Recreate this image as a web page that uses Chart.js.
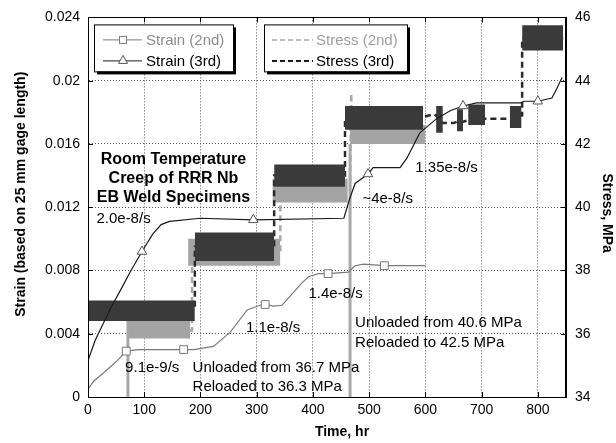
<!DOCTYPE html>
<html>
<head>
<meta charset="utf-8">
<style>
  html, body { margin: 0; padding: 0; background: #fff; }
  #wrap { width: 616px; height: 443px; position: relative; }
</style>
<script src="https://cdn.jsdelivr.net/npm/chart.js@4.4.1/dist/chart.umd.min.js"></script>
</head>
<body>
<div id="wrap"><canvas id="creepChart"></canvas></div>
<script>
// strain curves [time hr, strain]
const strain2 = [[0,0.0005],[10,0.0010],[27,0.0015],[52,0.0023],[68,0.0029],[90,0.0030],[170,0.0030],
  [188,0.0030],[223,0.0032],[253,0.0041],[283,0.0055],[306,0.0058],[315,0.00585],[330,0.00575],
  [345,0.0058],[365,0.0066],[380,0.0072],[392,0.0076],[410,0.0078],[427,0.0078],[463,0.0079],
  [475,0.0083],[490,0.0084],[527,0.0083],[600,0.0083]];
const strain3 = [[0,0.0023],[13,0.0036],[40,0.0056],[60,0.0069],[75,0.0079],[96,0.0092],[115,0.0103],
  [130,0.0109],[145,0.0111],[200,0.0113],[294,0.0112],[455,0.0113],[465,0.0125],[475,0.0135],
  [498,0.0141],[507,0.0145],[555,0.0145],[567,0.0151],[590,0.0167],[620,0.0176],[644,0.0181],
  [667,0.0184],[691,0.0186],[771,0.0186],[775,0.0187],[800,0.0187],[825,0.0189],[835,0.0196],[843,0.0202]];
const strain2Marks = [[68,0.0029],[170,0.0030],[315,0.00585],[427,0.0078],[527,0.0083]];
const strain3Marks = [[96,0.0092],[294,0.0112],[498,0.0141],[667,0.0184],[800,0.0187]];

// stress levels [time hr, MPa]
const stress2 = [[0,36.7],[71,36.7],[72,36.1],[185,36.1],[185,38.6],[342,38.6],[342,40.5],
  [466,40.5],[468,43.6],[470,42.3],[600,42.3]];
const stress3 = [[0,36.75],[190,36.75],[190,38.75],[331,38.75],[331,41.0],[457,41.0],[457,42.85],
  [596,42.85],[615,42.94],[619,42.9],[631,42.66],[650,42.66],[656,42.7],[667,42.7],[676,42.75],
  [706,42.8],[745,42.8],[750,42.85],[772,42.9],[772,45.35],[845,45.35]];

// noise bands [t start, t end, low MPa, high MPa]
const stress2Bands = [[72,182,35.85,36.6],[178,342,38.15,39.0],[328,462,40.15,40.9],[466,600,42.0,42.6]];
const stress3Bands = [[0,190,36.4,37.05],[190,331,38.3,39.2],[331,457,40.65,41.35],[457,596,42.45,43.2],
  [619,631,42.35,43.2],[656,667,42.4,43.1],[676,706,42.6,43.25],[750,771,42.5,43.2],[772,845,44.95,45.75]];

// unloading events of the 2nd specimen: time, stress before the drop
const unloadTimes = [71, 466];
const unloadFrom = [36.5, 42.0];

const xTicks = [0, 100, 200, 300, 400, 500, 600, 700, 800];

const notes = [
  ['Room Temperature', 152, 0.0150, true, 'center'],
  ['Creep of RRR Nb', 152, 0.0138, true, 'center'],
  ['EB Weld Specimens', 152, 0.0126, true, 'center'],
  ['2.0e-8/s', 15, 0.01128],
  ['9.1e-9/s', 66, 0.00183],
  ['Unloaded from 36.7 MPa', 186, 0.00183],
  ['Reloaded to 36.3 MPa', 186, 0.00063],
  ['1.1e-8/s', 281, 0.00435],
  ['1.4e-8/s', 392, 0.00655],
  ['Unloaded from 40.6 MPa', 475, 0.00466],
  ['Reloaded to 42.5 MPa', 475, 0.0034],
  ['~4e-8/s', 488, 0.01254],
  ['1.35e-8/s', 582, 0.01449]
];

const FONT = '"Liberation Sans", Arial, sans-serif';
const pts = arr => arr.map(p => ({ x: p[0], y: p[1] }));

function bandSets(bands, color, order) {
  return bands.map(b => ({
    data: [{ x: b[0], y: b[3] }, { x: b[1], y: b[3] }],
    yAxisID: 'y1',
    borderWidth: 0,
    pointRadius: 0,
    fill: { value: b[2] },
    backgroundColor: color,
    order: order
  }));
}

const unloadData = [];
unloadTimes.forEach((t, i) => {
  unloadData.push({ x: t, y: unloadFrom[i] }, { x: t, y: 0 }, { x: t, y: null });
});

const datasets = [
  { label: 'Strain (2nd)', data: pts(strain2), yAxisID: 'y', borderColor: '#7a7a7a', borderWidth: 1.2, pointRadius: 0, order: 0 },
  { label: 'Strain (3rd)', data: pts(strain3), yAxisID: 'y', borderColor: '#1a1a1a', borderWidth: 1.2, pointRadius: 0, order: 0 },
  { data: pts(strain2Marks), yAxisID: 'y', showLine: false, pointStyle: 'rect', pointRadius: 5.5,
    pointBackgroundColor: '#fff', pointBorderColor: '#777', pointBorderWidth: 1, order: -1 },
  { data: pts(strain3Marks), yAxisID: 'y', showLine: false, pointStyle: 'triangle', pointRadius: 5.5,
    pointBackgroundColor: '#fff', pointBorderColor: '#555', pointBorderWidth: 1, order: -1 },
  { label: 'Stress (3rd)', data: pts(stress3), yAxisID: 'y1', borderColor: '#2a2a2a', borderWidth: 2.5,
    borderDash: [6, 4], pointRadius: 0, order: 3 },
  ...bandSets(stress3Bands, '#3a3a3a', 2),
  { label: 'Stress (2nd)', data: pts(stress2), yAxisID: 'y1', borderColor: '#a8a8a8', borderWidth: 2.5,
    borderDash: [6, 4], pointRadius: 0, order: 5 },
  { data: unloadData, yAxisID: 'y1', borderColor: '#a8a8a8', borderWidth: 3, pointRadius: 0, spanGaps: false, order: 5 },
  ...bandSets(stress2Bands, '#a4a4a4', 4)
];

const decorations = {
  id: 'decorations',
  afterDraw(chart) {
    const { ctx, chartArea: a, scales } = chart;
    const x = scales.x, y = scales.y;
    ctx.save();

    // frame and inward ticks
    ctx.strokeStyle = '#000';
    ctx.lineWidth = 1;
    ctx.strokeRect(Math.round(a.left) + 0.5, Math.round(a.top) + 0.5,
      Math.round(a.right - a.left) - 1, Math.round(a.bottom - a.top));
    ctx.beginPath();
    xTicks.forEach(v => {
      const px = Math.round(x.getPixelForValue(v)) + 0.5;
      ctx.moveTo(px, a.top); ctx.lineTo(px, a.top + 5);
      ctx.moveTo(px, a.bottom); ctx.lineTo(px, a.bottom - 5);
    });
    y.ticks.forEach(t => {
      const py = Math.round(y.getPixelForValue(t.value)) + 0.5;
      ctx.moveTo(a.left, py); ctx.lineTo(a.left + 5, py);
      ctx.moveTo(a.right, py); ctx.lineTo(a.right - 5, py);
    });
    ctx.stroke();

    // annotations
    ctx.fillStyle = '#000';
    ctx.textBaseline = 'middle';
    notes.forEach(n => {
      ctx.font = n[3] ? 'bold 16px ' + FONT : '15px ' + FONT;
      ctx.textAlign = n[4] || 'left';
      ctx.fillText(n[0], x.getPixelForValue(n[1]), y.getPixelForValue(n[2]));
    });

    // legend boxes
    const box = (bx, by, w, h) => {
      ctx.fillStyle = '#000';
      ctx.fillRect(bx + 3, by + 3, w, h);
      ctx.fillStyle = '#fff';
      ctx.fillRect(bx, by, w, h);
      ctx.strokeStyle = '#000';
      ctx.lineWidth = 1;
      ctx.strokeRect(bx + 0.5, by + 0.5, w, h);
    };
    const b1x = a.left + 6, b2x = a.left + 176, by = a.top + 7;
    box(b1x, by, 139, 47);
    box(b2x, by, 143, 47);
    const r1 = by + 15, r2 = by + 36;
    ctx.font = '15px ' + FONT;
    ctx.textAlign = 'left';

    // strain entries
    ctx.lineWidth = 1;
    ctx.strokeStyle = '#7a7a7a';
    ctx.beginPath(); ctx.moveTo(b1x + 9, r1 + 0.5); ctx.lineTo(b1x + 48, r1 + 0.5); ctx.stroke();
    ctx.fillStyle = '#fff';
    ctx.fillRect(b1x + 25, r1 - 3.5, 8, 8);
    ctx.strokeRect(b1x + 25.5, r1 - 3, 7, 7);
    ctx.strokeStyle = '#1a1a1a';
    ctx.beginPath(); ctx.moveTo(b1x + 9, r2 + 0.5); ctx.lineTo(b1x + 48, r2 + 0.5); ctx.stroke();
    ctx.beginPath();
    ctx.moveTo(b1x + 29, r2 - 5); ctx.lineTo(b1x + 33.5, r2 + 3); ctx.lineTo(b1x + 24.5, r2 + 3); ctx.closePath();
    ctx.fill(); ctx.strokeStyle = '#555'; ctx.stroke();
    ctx.fillStyle = '#8c8c8c';
    ctx.fillText('Strain (2nd)', b1x + 52, r1 + 1);
    ctx.fillStyle = '#000';
    ctx.fillText('Strain (3rd)', b1x + 52, r2 + 1);

    // stress entries
    ctx.setLineDash([5, 3]);
    ctx.lineWidth = 1.5;
    ctx.strokeStyle = '#a8a8a8';
    ctx.beginPath(); ctx.moveTo(b2x + 8, r1 + 0.5); ctx.lineTo(b2x + 49, r1 + 0.5); ctx.stroke();
    ctx.lineWidth = 2;
    ctx.strokeStyle = '#1a1a1a';
    ctx.beginPath(); ctx.moveTo(b2x + 8, r2 + 0.5); ctx.lineTo(b2x + 49, r2 + 0.5); ctx.stroke();
    ctx.setLineDash([]);
    ctx.fillStyle = '#a0a0a0';
    ctx.fillText('Stress (2nd)', b2x + 52, r1 + 1);
    ctx.fillStyle = '#000';
    ctx.fillText('Stress (3rd)', b2x + 52, r2 + 1);

    // axis titles
    ctx.font = 'bold 14px ' + FONT;
    ctx.fillStyle = '#000';
    ctx.textAlign = 'center';
    ctx.fillText('Time, hr', (a.left + a.right) / 2 + 15, a.bottom + 35);
    ctx.save();
    ctx.translate(21, (a.top + a.bottom) / 2 - 13);
    ctx.rotate(-Math.PI / 2);
    ctx.fillText('Strain (based on 25 mm gage length)', 0, 0);
    ctx.restore();
    ctx.save();
    ctx.translate(607, (a.top + a.bottom) / 2 + 6);
    ctx.rotate(Math.PI / 2);
    ctx.fillText('Stress, MPa', 0, 0);
    ctx.restore();

    ctx.restore();
  }
};

const tickFont = { family: FONT, size: 14 };

new Chart(document.getElementById('creepChart'), {
  type: 'line',
  data: { datasets },
  plugins: [decorations],
  options: {
    responsive: true,
    maintainAspectRatio: false,
    animation: false,
    layout: { padding: { top: 16, left: 0, right: 0, bottom: 0 } },
    plugins: { legend: { display: false }, tooltip: { enabled: false } },
    elements: { line: { tension: 0 } },
    scales: {
      x: {
        type: 'linear',
        min: 0,
        max: 850,
        afterFit(s) { s.height = 46; },
        ticks: { stepSize: 100, includeBounds: false, color: '#000', font: tickFont, padding: 5, maxRotation: 0 },
        grid: { color: '#555', drawTicks: false },
        border: { color: '#000', width: 1, dash: [1, 2] }
      },
      y: {
        position: 'left',
        min: 0,
        max: 0.024,
        afterFit(s) { s.width = 88; },
        ticks: {
          stepSize: 0.004, color: '#000', font: tickFont, padding: 8,
          callback: v => String(Number(v.toFixed(3)))
        },
        grid: { color: '#555', drawTicks: false },
        border: { color: '#000', width: 1, dash: [1, 2] }
      },
      y1: {
        position: 'right',
        min: 34,
        max: 46,
        afterFit(s) { s.width = 50; },
        ticks: { stepSize: 2, color: '#000', font: tickFont, padding: 9 },
        grid: { drawOnChartArea: false, drawTicks: false },
        border: { color: '#000', width: 1 }
      }
    }
  }
});
</script>
</body>
</html>
